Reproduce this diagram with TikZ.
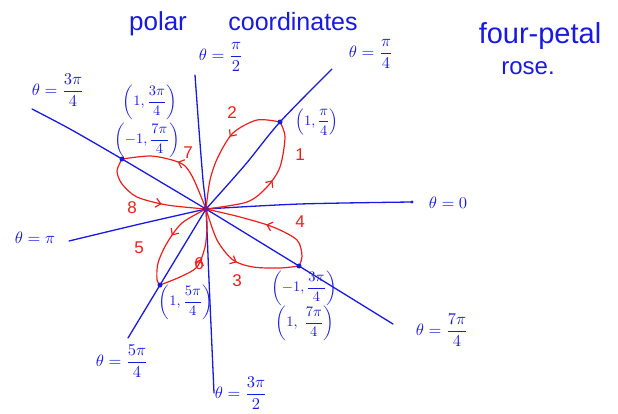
\documentclass[tikz,border=0pt]{standalone}
\usepackage{amsmath}
\usepackage{fontspec}
\setmainfont{Liberation Sans}
\usetikzlibrary{arrows.meta,decorations.markings}
\definecolor{pen}{RGB}{25,25,225}
\definecolor{ink}{RGB}{235,30,30}
\newcommand{\bigmath}[1]{\scalebox{1.65}{#1}}
\newcommand{\ptmath}[1]{\scalebox{1.45}{#1}}
\tikzset{
  axisline/.style={pen, line width=1.3pt, line cap=round},
  petal/.style={ink, line width=1.2pt, line cap=round, postaction={decorate},
    decoration={markings, mark=at position #1 with {\arrow{Straight Barb[length=5pt,width=9pt,line width=1.2pt]}}}},
  petal/.default=0.5,
  lbl/.style={pen, font=\fontsize{10}{12}\selectfont, inner sep=0pt},
  num/.style={ink, font=\fontsize{17}{19}\selectfont, inner sep=1pt},
  titletext/.style={pen, inner sep=1pt},
  dotmark/.style={pen, circle, fill, inner sep=0pt, minimum size=5pt}
}
\begin{document}
\begin{tikzpicture}[x=1pt,y=-1pt]
\useasboundingbox (0,0) rectangle (618,414);
% named points
\coordinate (O) at (206,209);
\coordinate (P1) at (280,122);
\coordinate (P3) at (122,159);
\coordinate (P5) at (160,285);
\coordinate (P7) at (299,266);
\coordinate (Aup) at (195,75);
\coordinate (Adown) at (214,393);
\coordinate (Aright) at (412,202);
\coordinate (Aleft) at (69,241);
\coordinate (Aq1) at (332,69);
\coordinate (Aq3) at (32,109);
\coordinate (Aq5) at (128,338);
\coordinate (Aq7) at (393,324);
% axes
\draw[axisline] plot[smooth] coordinates {(Aup) (199,130) (203,180) (O) (209,280) (Adown)};
\draw[axisline] plot[smooth] coordinates {(O) (300,204) (Aright)};
\fill[pen] (Aright) circle (1.6);
\draw[axisline] plot[smooth] coordinates {(O) (140,224) (Aleft)};
\draw[axisline] plot[smooth] coordinates {(O) (245,165) (P1) (Aq1)};
\draw[axisline] plot[smooth] coordinates {(Aq3) (70,129) (P3) (O)};
\draw[axisline] (O) -- (P5) -- (Aq5);
\draw[axisline] (O) -- (P7) -- (Aq7);
% petals
\draw[petal=0.55] plot[smooth] coordinates {(O) (247,202) (267,187) (280,167) (285,137) (P1)};
\draw[petal=0.42] plot[smooth] coordinates {(P1) (257,120) (233,133) (218,157) (210,180) (O)};
\draw[petal=0.5] plot[smooth] coordinates {(O) (194,180) (185,166) (172,160) (150,156) (P3)};
\draw[petal=0.62] plot[smooth] coordinates {(P3) (117,171) (122,184) (137,197) (167,205) (O)};
\draw[petal=0.5] plot[smooth] coordinates {(O) (217,240) (233,260) (253,267) (280,268) (P7)};
\draw[petal=0.5] plot[smooth] coordinates {(P7) (302,256) (297,240) (273,227) (240,217) (O)};
\draw[petal=0.45] plot[smooth] coordinates {(O) (182,223) (167,243) (158,263) (157,280) (P5)};
\draw[petal=0.5] plot[smooth] coordinates {(P5) (180,277) (197,267) (205,247) (207,227) (O)};
% dots
\node[dotmark] (d1) at (P1) {};
\node[dotmark] (d3) at (P3) {};
\node[dotmark] (d5) at (P5) {};
\node[dotmark] (d7) at (P7) {};
\node[circle, fill=pen!60!ink, inner sep=0pt, minimum size=6pt] (c) at (O) {};
% petal numbers
\node[num] (n1) at (300,155) {1};
\node[num] (n2) at (232,113) {2};
\node[num] (n3) at (237,281) {3};
\node[num] (n4) at (300,222) {4};
\node[num] (n5) at (139,248) {5};
\node[num] (n6) at (199,264) {6};
\node[num] (n7) at (188,153) {7};
\node[num] (n8) at (132,208) {8};
% titles
\node[titletext, font=\fontsize{26}{28}\selectfont] (t1) at (158,24) {polar};
\node[titletext, font=\fontsize{25}{28}\selectfont] (t2) at (293,22) {coordinates};
\node[titletext, font=\fontsize{29}{31}\selectfont] (t3) at (540,36) {four-petal};
\node[titletext, font=\fontsize{24}{26}\selectfont] (t4) at (528,68) {rose.};
% angle labels
\node[lbl] (l0) at (448,203) {\bigmath{$\theta = 0$}};
\node[lbl] (l1) at (371,54) {\bigmath{$\theta=\dfrac{\pi}{4}$}};
\node[lbl] (l2) at (221,57) {\bigmath{$\theta=\dfrac{\pi}{2}$}};
\node[lbl] (l3) at (58,90) {\bigmath{$\theta=\dfrac{3\pi}{4}$}};
\node[lbl] (l4) at (35,238) {\bigmath{$\theta=\pi$}};
\node[lbl] (l5) at (122,361) {\bigmath{$\theta=\dfrac{5\pi}{4}$}};
\node[lbl] (l6) at (241,393) {\bigmath{$\theta=\dfrac{3\pi}{2}$}};
\node[lbl] (l7) at (442,330) {\bigmath{$\theta=\dfrac{7\pi}{4}$}};
% point labels
\node[lbl] (q1) at (317,122) {\ptmath{$\left(1,\dfrac{\pi}{4}\right)$}};
\node[lbl] (q2) at (150,102) {\ptmath{$\left(1,\dfrac{3\pi}{4}\right)$}};
\node[lbl] (q3) at (147,140) {\ptmath{$\left(-1,\dfrac{7\pi}{4}\right)$}};
\node[lbl] (q4) at (186,302) {\ptmath{$\left(1,\dfrac{5\pi}{4}\right)$}};
\node[lbl] (q5) at (304,288) {\ptmath{$\left(-1,\dfrac{3\pi}{4}\right)$}};
\node[lbl] (q6) at (305,323) {\ptmath{$\left(1,\;\dfrac{7\pi}{4}\right)$}};
\end{tikzpicture}
\end{document}
